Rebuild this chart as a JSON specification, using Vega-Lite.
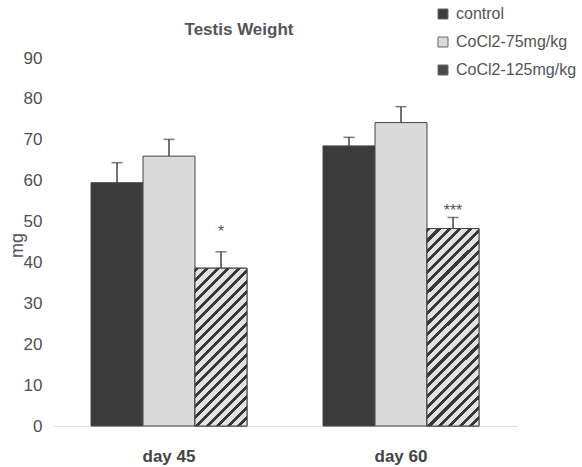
{
  "$schema": "https://vega.github.io/schema/vega-lite/v6.json",
  "autosize": "none",
  "padding": {"left": 53, "top": 58, "right": 65, "bottom": 41},
  "width": 464,
  "height": 368,
  "background": "white",
  "config": {
    "font": "Liberation Sans",
    "view": {"stroke": null}
  },
  "title": {
    "text": "Testis Weight",
    "fontSize": 17,
    "fontWeight": "bold",
    "color": "#555555",
    "anchor": "middle",
    "dx": -46,
    "dy": 55,
    "offset": 22
  },
  "data": {
    "values": [
      {"day": "day 45", "group": "control", "value": 59.5, "upper": 64.4, "sig": "", "sigY": null},
      {"day": "day 45", "group": "CoCl2-75mg/kg", "value": 66.0, "upper": 70.1, "sig": "", "sigY": null},
      {"day": "day 45", "group": "CoCl2-125mg/kg", "value": 38.6, "upper": 42.6, "sig": "*", "sigY": 48.5},
      {"day": "day 60", "group": "control", "value": 68.5, "upper": 70.6, "sig": "", "sigY": null},
      {"day": "day 60", "group": "CoCl2-75mg/kg", "value": 74.2, "upper": 78.1, "sig": "", "sigY": null},
      {"day": "day 60", "group": "CoCl2-125mg/kg", "value": 48.3, "upper": 51.0, "sig": "***", "sigY": 53.6}
    ]
  },
  "encoding": {
    "x": {
      "field": "day",
      "type": "nominal",
      "scale": {"paddingInner": 0.3276, "paddingOuter": 0.1638},
      "axis": {
        "title": null,
        "labelAngle": 0,
        "labelFontSize": 17,
        "labelFontWeight": "bold",
        "labelColor": "#444444",
        "labelPadding": 22,
        "ticks": false,
        "domain": true,
        "domainColor": "#dddddd"
      }
    },
    "xOffset": {
      "field": "group",
      "type": "nominal",
      "scale": {"domain": ["control", "CoCl2-75mg/kg", "CoCl2-125mg/kg"], "paddingInner": 0, "paddingOuter": 0}
    }
  },
  "layer": [
    {
      "mark": {"type": "bar", "stroke": "#444444", "strokeWidth": 1},
      "encoding": {
        "y": {
          "field": "value",
          "type": "quantitative",
          "scale": {"domain": [0, 90], "nice": false},
          "axis": {
            "values": [0, 10, 20, 30, 40, 50, 60, 70, 80, 90],
            "grid": false,
            "ticks": false,
            "domain": false,
            "labelFontSize": 17,
            "labelColor": "#505050",
            "labelPadding": 11,
            "title": "mg",
            "titleFontSize": 18,
            "titleFontWeight": "normal",
            "titleColor": "#555555",
            "titleX": -36,
            "titleY": 187,
            "titleAlign": "center",
            "titleBaseline": "middle",
            "titleAngle": -90
          }
        },
        "color": {
          "field": "group",
          "type": "nominal",
          "scale": {
            "domain": ["control", "CoCl2-75mg/kg", "CoCl2-125mg/kg"],
            "range": ["#3c3c3c", "#dadada", "#4a4a4a"]
          },
          "legend": {
            "title": null,
            "orient": "none",
            "legendX": 382,
            "legendY": -52,
            "symbolType": "square",
            "symbolSize": 100,
            "symbolStrokeColor": "#666666",
            "symbolStrokeWidth": 1,
            "labelFontSize": 16,
            "labelColor": "#555555",
            "labelOffset": 5,
            "labelLimit": 200,
            "rowPadding": 12
          }
        }
      }
    },
    {
      "transform": [{"filter": "datum.day === 'day 45' && datum.group === 'CoCl2-125mg/kg'"}],
      "mark": {
        "type": "bar",
        "stroke": "#444444",
        "strokeWidth": 1,
        "fill": {
          "gradient": "linear",
          "x1": 0, "y1": 0, "x2": 0.396, "y2": 1.2,
          "stops": [
            {"offset": 0, "color": "#383838"}, {"offset": 0.02, "color": "#383838"}, {"offset": 0.02, "color": "#e2e2e2"}, {"offset": 0.05, "color": "#e2e2e2"},
            {"offset": 0.05, "color": "#383838"}, {"offset": 0.07, "color": "#383838"}, {"offset": 0.07, "color": "#e2e2e2"}, {"offset": 0.1, "color": "#e2e2e2"},
            {"offset": 0.1, "color": "#383838"}, {"offset": 0.12, "color": "#383838"}, {"offset": 0.12, "color": "#e2e2e2"}, {"offset": 0.15, "color": "#e2e2e2"},
            {"offset": 0.15, "color": "#383838"}, {"offset": 0.17, "color": "#383838"}, {"offset": 0.17, "color": "#e2e2e2"}, {"offset": 0.2, "color": "#e2e2e2"},
            {"offset": 0.2, "color": "#383838"}, {"offset": 0.22, "color": "#383838"}, {"offset": 0.22, "color": "#e2e2e2"}, {"offset": 0.25, "color": "#e2e2e2"},
            {"offset": 0.25, "color": "#383838"}, {"offset": 0.27, "color": "#383838"}, {"offset": 0.27, "color": "#e2e2e2"}, {"offset": 0.3, "color": "#e2e2e2"},
            {"offset": 0.3, "color": "#383838"}, {"offset": 0.32, "color": "#383838"}, {"offset": 0.32, "color": "#e2e2e2"}, {"offset": 0.35, "color": "#e2e2e2"},
            {"offset": 0.35, "color": "#383838"}, {"offset": 0.37, "color": "#383838"}, {"offset": 0.37, "color": "#e2e2e2"}, {"offset": 0.4, "color": "#e2e2e2"},
            {"offset": 0.4, "color": "#383838"}, {"offset": 0.42, "color": "#383838"}, {"offset": 0.42, "color": "#e2e2e2"}, {"offset": 0.45, "color": "#e2e2e2"},
            {"offset": 0.45, "color": "#383838"}, {"offset": 0.47, "color": "#383838"}, {"offset": 0.47, "color": "#e2e2e2"}, {"offset": 0.5, "color": "#e2e2e2"},
            {"offset": 0.5, "color": "#383838"}, {"offset": 0.52, "color": "#383838"}, {"offset": 0.52, "color": "#e2e2e2"}, {"offset": 0.55, "color": "#e2e2e2"},
            {"offset": 0.55, "color": "#383838"}, {"offset": 0.57, "color": "#383838"}, {"offset": 0.57, "color": "#e2e2e2"}, {"offset": 0.6, "color": "#e2e2e2"},
            {"offset": 0.6, "color": "#383838"}, {"offset": 0.62, "color": "#383838"}, {"offset": 0.62, "color": "#e2e2e2"}, {"offset": 0.65, "color": "#e2e2e2"},
            {"offset": 0.65, "color": "#383838"}, {"offset": 0.67, "color": "#383838"}, {"offset": 0.67, "color": "#e2e2e2"}, {"offset": 0.7, "color": "#e2e2e2"},
            {"offset": 0.7, "color": "#383838"}, {"offset": 0.72, "color": "#383838"}, {"offset": 0.72, "color": "#e2e2e2"}, {"offset": 0.75, "color": "#e2e2e2"},
            {"offset": 0.75, "color": "#383838"}, {"offset": 0.77, "color": "#383838"}, {"offset": 0.77, "color": "#e2e2e2"}, {"offset": 0.8, "color": "#e2e2e2"},
            {"offset": 0.8, "color": "#383838"}, {"offset": 0.82, "color": "#383838"}, {"offset": 0.82, "color": "#e2e2e2"}, {"offset": 0.85, "color": "#e2e2e2"},
            {"offset": 0.85, "color": "#383838"}, {"offset": 0.87, "color": "#383838"}, {"offset": 0.87, "color": "#e2e2e2"}, {"offset": 0.9, "color": "#e2e2e2"},
            {"offset": 0.9, "color": "#383838"}, {"offset": 0.92, "color": "#383838"}, {"offset": 0.92, "color": "#e2e2e2"}, {"offset": 0.95, "color": "#e2e2e2"},
            {"offset": 0.95, "color": "#383838"}, {"offset": 0.97, "color": "#383838"}, {"offset": 0.97, "color": "#e2e2e2"}, {"offset": 1, "color": "#e2e2e2"}
          ]
        }
      },
      "encoding": {
        "y": {"field": "value", "type": "quantitative"}
      }
    },
    {
      "transform": [{"filter": "datum.day === 'day 60' && datum.group === 'CoCl2-125mg/kg'"}],
      "mark": {
        "type": "bar",
        "stroke": "#444444",
        "strokeWidth": 1,
        "fill": {
          "gradient": "linear",
          "x1": 0, "y1": 0, "x2": 0.3096, "y2": 1.181,
          "stops": [
            {"offset": 0, "color": "#383838"}, {"offset": 0.0167, "color": "#383838"}, {"offset": 0.0167, "color": "#e2e2e2"}, {"offset": 0.0417, "color": "#e2e2e2"},
            {"offset": 0.0417, "color": "#383838"}, {"offset": 0.0583, "color": "#383838"}, {"offset": 0.0583, "color": "#e2e2e2"}, {"offset": 0.0833, "color": "#e2e2e2"},
            {"offset": 0.0833, "color": "#383838"}, {"offset": 0.1, "color": "#383838"}, {"offset": 0.1, "color": "#e2e2e2"}, {"offset": 0.125, "color": "#e2e2e2"},
            {"offset": 0.125, "color": "#383838"}, {"offset": 0.1417, "color": "#383838"}, {"offset": 0.1417, "color": "#e2e2e2"}, {"offset": 0.1667, "color": "#e2e2e2"},
            {"offset": 0.1667, "color": "#383838"}, {"offset": 0.1833, "color": "#383838"}, {"offset": 0.1833, "color": "#e2e2e2"}, {"offset": 0.2083, "color": "#e2e2e2"},
            {"offset": 0.2083, "color": "#383838"}, {"offset": 0.225, "color": "#383838"}, {"offset": 0.225, "color": "#e2e2e2"}, {"offset": 0.25, "color": "#e2e2e2"},
            {"offset": 0.25, "color": "#383838"}, {"offset": 0.2667, "color": "#383838"}, {"offset": 0.2667, "color": "#e2e2e2"}, {"offset": 0.2917, "color": "#e2e2e2"},
            {"offset": 0.2917, "color": "#383838"}, {"offset": 0.3083, "color": "#383838"}, {"offset": 0.3083, "color": "#e2e2e2"}, {"offset": 0.3333, "color": "#e2e2e2"},
            {"offset": 0.3333, "color": "#383838"}, {"offset": 0.35, "color": "#383838"}, {"offset": 0.35, "color": "#e2e2e2"}, {"offset": 0.375, "color": "#e2e2e2"},
            {"offset": 0.375, "color": "#383838"}, {"offset": 0.3917, "color": "#383838"}, {"offset": 0.3917, "color": "#e2e2e2"}, {"offset": 0.4167, "color": "#e2e2e2"},
            {"offset": 0.4167, "color": "#383838"}, {"offset": 0.4333, "color": "#383838"}, {"offset": 0.4333, "color": "#e2e2e2"}, {"offset": 0.4583, "color": "#e2e2e2"},
            {"offset": 0.4583, "color": "#383838"}, {"offset": 0.475, "color": "#383838"}, {"offset": 0.475, "color": "#e2e2e2"}, {"offset": 0.5, "color": "#e2e2e2"},
            {"offset": 0.5, "color": "#383838"}, {"offset": 0.5167, "color": "#383838"}, {"offset": 0.5167, "color": "#e2e2e2"}, {"offset": 0.5417, "color": "#e2e2e2"},
            {"offset": 0.5417, "color": "#383838"}, {"offset": 0.5583, "color": "#383838"}, {"offset": 0.5583, "color": "#e2e2e2"}, {"offset": 0.5833, "color": "#e2e2e2"},
            {"offset": 0.5833, "color": "#383838"}, {"offset": 0.6, "color": "#383838"}, {"offset": 0.6, "color": "#e2e2e2"}, {"offset": 0.625, "color": "#e2e2e2"},
            {"offset": 0.625, "color": "#383838"}, {"offset": 0.6417, "color": "#383838"}, {"offset": 0.6417, "color": "#e2e2e2"}, {"offset": 0.6667, "color": "#e2e2e2"},
            {"offset": 0.6667, "color": "#383838"}, {"offset": 0.6833, "color": "#383838"}, {"offset": 0.6833, "color": "#e2e2e2"}, {"offset": 0.7083, "color": "#e2e2e2"},
            {"offset": 0.7083, "color": "#383838"}, {"offset": 0.725, "color": "#383838"}, {"offset": 0.725, "color": "#e2e2e2"}, {"offset": 0.75, "color": "#e2e2e2"},
            {"offset": 0.75, "color": "#383838"}, {"offset": 0.7667, "color": "#383838"}, {"offset": 0.7667, "color": "#e2e2e2"}, {"offset": 0.7917, "color": "#e2e2e2"},
            {"offset": 0.7917, "color": "#383838"}, {"offset": 0.8083, "color": "#383838"}, {"offset": 0.8083, "color": "#e2e2e2"}, {"offset": 0.8333, "color": "#e2e2e2"},
            {"offset": 0.8333, "color": "#383838"}, {"offset": 0.85, "color": "#383838"}, {"offset": 0.85, "color": "#e2e2e2"}, {"offset": 0.875, "color": "#e2e2e2"},
            {"offset": 0.875, "color": "#383838"}, {"offset": 0.8917, "color": "#383838"}, {"offset": 0.8917, "color": "#e2e2e2"}, {"offset": 0.9167, "color": "#e2e2e2"},
            {"offset": 0.9167, "color": "#383838"}, {"offset": 0.9333, "color": "#383838"}, {"offset": 0.9333, "color": "#e2e2e2"}, {"offset": 0.9583, "color": "#e2e2e2"},
            {"offset": 0.9583, "color": "#383838"}, {"offset": 0.975, "color": "#383838"}, {"offset": 0.975, "color": "#e2e2e2"}, {"offset": 1, "color": "#e2e2e2"}
          ]
        }
      },
      "encoding": {
        "y": {"field": "value", "type": "quantitative"}
      }
    },
    {
      "mark": {"type": "rule", "color": "#444444", "strokeWidth": 1.5},
      "encoding": {
        "y": {"field": "value", "type": "quantitative"},
        "y2": {"field": "upper"}
      }
    },
    {
      "mark": {"type": "tick", "color": "#444444", "thickness": 1.5, "size": 11},
      "encoding": {
        "y": {"field": "upper", "type": "quantitative"}
      }
    },
    {
      "transform": [{"filter": "datum.sig !== ''"}],
      "mark": {"type": "text", "fontSize": 16, "color": "#555555", "baseline": "middle", "dy": 4},
      "encoding": {
        "y": {"field": "sigY", "type": "quantitative"},
        "text": {"field": "sig"}
      }
    }
  ]
}
